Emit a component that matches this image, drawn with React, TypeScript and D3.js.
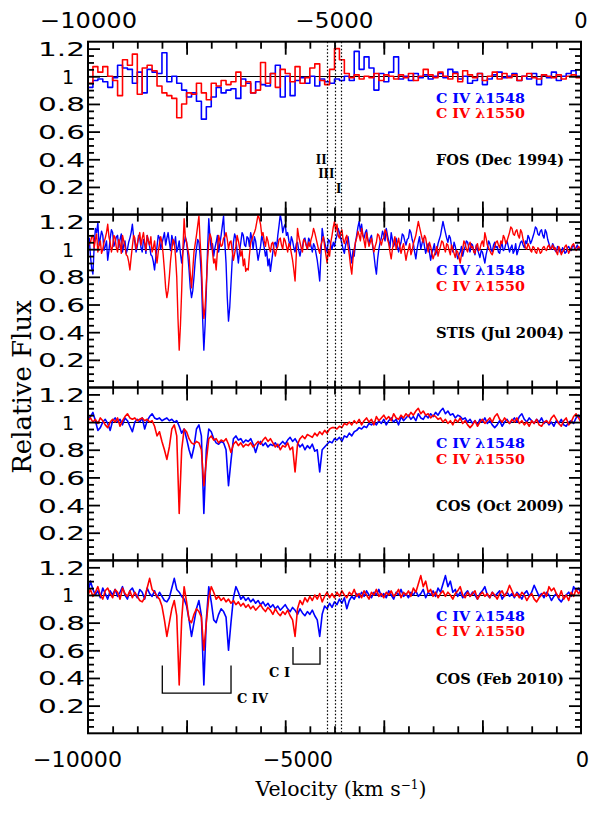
import { useEffect, useRef } from 'react';
import * as d3 from 'd3';

// velocity grid of the spectra (km/s)
const V_START = -10000;
const FOS_STEP = 100;
const STIS_STEP = 25;
const COS_STEP = 50;

// FOS (Dec 1994), 100 km/s bins
const fosBlue = [
    0.92, 0.97, 0.98, 0.96, 0.92, 0.99, 1.08, 1.06, 1.05, 0.95,
    1.03, 0.88, 1.05, 1.03, 1.02, 1.17, 0.96, 1.0, 0.95, 0.9,
    0.85, 0.88, 0.82, 0.69, 0.78, 0.85, 0.92, 0.88, 0.9, 0.91,
    0.84, 0.98, 0.95, 0.88, 0.96, 0.94, 0.93, 1.02, 1.08, 0.85,
    1.0, 0.86, 0.97, 0.99, 0.95, 1.0, 0.93, 0.98, 0.96, 0.95,
    0.98, 0.97, 1.0, 0.97, 1.18, 1.05, 1.14, 1.06, 0.9, 1.02,
    0.96, 1.03, 1.14, 0.98, 1.0, 0.97, 1.02, 0.99, 1.01, 0.98,
    1.0, 1.02, 0.99, 1.05, 1.03, 0.98, 1.0, 0.95, 0.97, 1.02,
    0.94, 0.98, 1.01, 1.03, 0.99, 1.0, 1.02, 0.97, 1.0, 0.98,
    1.02, 0.94, 1.01, 0.99, 1.03, 0.97, 1.0, 1.02, 1.04, 1.0,
    1.0,
];
const fosRed = [
    0.95, 1.07, 1.03, 1.07, 1.0, 0.97, 0.86, 1.12, 1.08, 1.16,
    0.87, 1.06, 1.08, 1.04, 0.93, 0.88, 0.86, 0.84, 0.7, 0.8,
    0.88, 0.87, 0.95, 0.88, 0.83, 0.95, 0.93, 0.97, 0.94, 0.96,
    1.03, 0.93, 0.96, 0.88, 0.9, 1.1, 0.95, 1.02, 0.92, 1.05,
    1.02, 0.96, 1.07, 0.95, 0.99, 1.06, 1.09, 0.97, 0.94, 1.05,
    1.2, 1.12, 1.02, 0.99, 1.01, 0.98, 1.0, 0.99, 1.02, 0.97,
    1.01, 1.0, 0.98, 1.01, 0.99, 1.02, 0.97, 1.0, 1.05, 1.01,
    0.99, 1.03, 1.0, 0.98, 1.02, 0.96, 1.04, 1.01, 0.99, 1.02,
    0.97, 1.0, 1.03, 0.98, 1.02, 0.99, 1.01, 0.97, 1.0, 1.02,
    0.99, 0.98, 1.01, 1.0, 0.99, 1.01, 0.98, 1.0, 1.01, 0.99,
    0.99,
];

// STIS (Jul 2004), 25 km/s grid
const stisBlue = [
    1.04, 1.08, 0.95, 0.86, 0.82, 1.02, 1.15, 1.12, 1.19, 1.03, 1.08, 1.13, 1.1, 0.99, 1.02, 1.06, 0.92, 0.99, 1.08, 1.14,
    1.12, 1.02, 1.05, 1.09, 1.1, 1.01, 1.07, 1.11, 0.98, 1.03, 1.06, 0.97, 1.0, 1.05, 1.08, 1.12, 1.18, 1.09, 1.05, 0.98,
    1.02, 1.1, 1.08, 1.01, 0.98, 1.07, 1.04, 0.97, 1.1, 1.06, 1.02, 0.96, 0.95, 0.91, 0.85, 0.94, 1.02, 1.1, 1.08, 1.0,
    1.04, 1.08, 1.12, 1.03, 1.08, 1.12, 1.05, 0.99, 1.1, 1.06, 1.03, 1.09, 0.98, 1.01, 1.06, 0.97, 0.9, 0.98, 1.04, 1.09,
    1.05, 0.96, 0.85, 0.72, 0.65, 0.7, 0.8, 0.92, 1.0, 1.07, 1.05, 0.95, 0.8, 0.5, 0.27, 0.45, 0.7, 1.0, 1.22, 1.08,
    1.0, 1.04, 0.95, 1.01, 1.05, 1.1, 0.98, 1.04, 1.1, 1.17, 1.24, 1.05, 0.9, 0.65, 0.48, 0.58, 0.75, 0.92, 1.05, 1.11,
    1.08, 0.98, 0.9, 0.99, 1.05, 1.12, 1.1, 1.03, 1.02, 1.09, 1.08, 1.02, 1.12, 1.07, 1.0, 1.09, 1.06, 0.99, 0.92, 0.97,
    1.02, 1.1, 1.06, 1.01, 0.95, 0.99, 0.88, 0.93, 0.84, 0.91, 0.98, 1.04, 1.05, 1.01, 1.1, 1.17, 1.25, 1.2, 1.12, 1.16,
    1.18, 1.1, 1.12, 1.06, 1.02, 1.09, 1.06, 1.01, 0.98, 1.04, 1.05, 0.99, 0.95, 1.0, 1.02, 1.07, 1.08, 1.03, 1.0, 1.08,
    1.06, 1.02, 0.98, 1.04, 1.02, 0.97, 0.92, 0.85, 0.77, 0.96, 1.15, 1.09, 1.05, 1.01, 0.98, 1.07, 1.06, 1.03, 1.0, 1.05,
    1.02, 1.07, 1.1, 1.15, 1.12, 1.08, 1.04, 1.0, 0.97, 1.03, 1.06, 1.09, 1.02, 0.96, 0.9, 0.99, 0.95, 1.05, 1.1, 1.16,
    1.2, 1.13, 1.18, 1.1, 1.08, 1.12, 1.14, 1.07, 1.04, 1.08, 1.1, 1.02, 0.96, 0.88, 0.82, 0.93, 1.0, 1.05, 1.08, 1.13,
    1.1, 1.06, 1.15, 1.1, 1.06, 1.01, 1.12, 1.07, 1.02, 1.05, 1.08, 1.03, 0.98, 1.02, 1.05, 1.11, 1.1, 1.06, 1.03, 1.07,
    1.08, 1.14, 1.12, 1.07, 1.04, 0.98, 0.93, 1.0, 1.05, 1.09, 1.0, 1.04, 1.08, 1.02, 0.97, 1.01, 1.04, 0.98, 0.92, 0.97,
    1.0, 1.04, 0.96, 0.99, 1.04, 1.07, 1.1, 1.15, 1.2, 1.16, 1.12, 1.08, 1.05, 1.1, 1.08, 1.02, 0.98, 1.05, 1.02, 0.97,
    0.93, 0.96, 0.98, 1.02, 0.95, 0.99, 1.02, 1.06, 1.05, 1.01, 0.98, 1.04, 1.03, 0.99, 0.96, 1.03, 1.0, 0.97, 0.94, 0.99,
    0.98, 0.94, 0.9, 0.96, 1.0, 1.06, 1.04, 1.0, 0.98, 1.03, 1.05, 1.01, 1.02, 0.98, 0.97, 1.02, 1.04, 0.99, 1.0, 1.04,
    1.06, 1.02, 0.98, 1.01, 1.03, 0.97, 0.99, 1.04, 0.96, 0.99, 1.02, 1.05, 1.06, 1.03, 1.01, 1.06, 1.04, 1.1, 1.08, 1.04,
    1.06, 1.09, 1.12, 1.16, 1.15, 1.11, 1.1, 1.13, 1.14, 1.1, 1.08, 1.14, 1.12, 1.07, 1.04, 1.01, 1.0, 1.04, 1.02, 0.99,
    0.98, 1.02, 1.01, 0.98, 0.97, 1.01, 1.0, 0.97, 0.98, 1.01, 1.02, 1.0, 0.99, 1.02, 1.03, 1.0, 1.01, 1.03, 1.0, 1.01,
    0.98,
];
const stisRed = [
    1.02, 1.04, 1.05, 1.09, 1.1, 1.01, 1.07, 1.11, 0.98, 1.03, 1.06, 0.97, 1.0, 1.05, 1.08, 1.12, 1.18, 1.09, 1.05, 0.98,
    1.02, 1.1, 1.08, 1.01, 0.98, 1.07, 1.04, 0.97, 1.1, 1.06, 1.02, 0.96, 0.95, 0.91, 0.85, 0.94, 1.02, 1.1, 1.08, 1.0,
    1.04, 1.08, 1.12, 1.03, 1.08, 1.12, 1.05, 0.99, 1.1, 1.06, 1.03, 1.09, 0.98, 1.01, 1.06, 0.97, 0.9, 0.98, 1.04, 1.09,
    1.05, 0.96, 0.85, 0.72, 0.65, 0.7, 0.8, 0.92, 1.0, 1.07, 1.05, 0.95, 0.8, 0.5, 0.27, 0.45, 0.7, 1.0, 1.22, 1.08,
    1.05, 1.0, 0.95, 0.82, 0.72, 0.85, 0.98, 1.04, 1.1, 1.17, 1.24, 1.05, 0.9, 0.65, 0.5, 0.58, 0.75, 0.92, 1.05, 1.11,
    1.08, 0.98, 0.9, 0.93, 0.85, 0.99, 1.1, 1.06, 1.02, 1.03, 1.08, 1.09, 1.12, 1.07, 1.0, 1.05, 1.06, 0.99, 0.92, 0.97,
    1.02, 1.1, 1.06, 1.01, 0.95, 0.99, 0.88, 0.93, 0.84, 0.86, 0.85, 0.96, 1.05, 1.07, 1.1, 1.12, 1.15, 1.2, 1.25, 1.22,
    1.18, 1.1, 1.12, 1.06, 1.02, 1.09, 1.06, 1.01, 0.98, 1.04, 1.05, 0.99, 0.95, 1.0, 1.02, 1.07, 1.08, 1.03, 1.0, 1.08,
    1.06, 1.02, 0.98, 1.04, 1.02, 0.97, 0.92, 0.85, 0.77, 0.96, 1.15, 1.09, 1.05, 1.01, 0.98, 1.07, 1.06, 1.03, 1.0, 1.05,
    1.02, 1.07, 1.1, 1.15, 1.12, 1.08, 1.04, 1.0, 0.97, 1.03, 1.06, 1.09, 1.02, 0.96, 0.9, 0.99, 0.95, 1.05, 1.1, 1.16,
    1.2, 1.13, 1.18, 1.1, 1.08, 1.12, 1.14, 1.07, 1.04, 1.08, 1.1, 1.02, 0.96, 0.88, 0.82, 0.93, 1.0, 1.05, 1.08, 1.13,
    1.1, 1.06, 1.15, 1.1, 1.06, 1.01, 1.12, 1.07, 1.02, 1.05, 1.08, 1.03, 0.98, 1.02, 1.05, 1.11, 1.1, 1.06, 1.03, 1.07,
    1.08, 1.14, 1.12, 1.07, 1.04, 0.98, 0.93, 1.0, 1.05, 1.09, 1.0, 1.04, 1.08, 1.02, 0.97, 1.01, 1.04, 0.98, 0.92, 0.97,
    1.0, 1.04, 0.96, 0.99, 1.04, 1.07, 1.1, 1.15, 1.2, 1.16, 1.12, 1.08, 1.05, 1.1, 1.08, 1.02, 0.98, 1.05, 1.02, 0.97,
    0.93, 0.96, 0.98, 1.02, 0.95, 0.99, 1.02, 1.06, 1.05, 1.01, 0.98, 1.04, 1.03, 0.99, 0.96, 1.03, 1.0, 0.97, 0.94, 0.99,
    0.98, 0.94, 0.9, 0.96, 1.0, 1.06, 1.04, 1.0, 0.98, 1.03, 1.05, 1.01, 1.02, 0.98, 0.97, 1.02, 1.04, 0.99, 1.0, 1.04,
    1.06, 1.02, 1.12, 1.08, 1.03, 1.01, 0.99, 0.97, 0.96, 0.99, 1.02, 1.05, 1.06, 1.03, 1.01, 1.06, 1.04, 1.1, 1.08, 1.04,
    1.06, 1.09, 1.12, 1.16, 1.15, 1.11, 1.1, 1.13, 1.14, 1.1, 1.08, 1.14, 1.12, 1.07, 1.04, 1.01, 1.0, 1.04, 1.02, 0.99,
    0.98, 1.02, 1.01, 0.98, 0.97, 1.01, 1.0, 0.97, 0.98, 1.01, 1.02, 1.0, 0.99, 1.02, 1.03, 1.0, 1.01, 1.03, 1.0, 1.01,
    0.98, 0.96, 1.02, 1.0, 0.96, 0.98, 0.99, 1.02, 1.03, 1.0, 0.97, 0.99, 1.01, 1.03, 1.04, 1.01, 0.99, 1.0, 1.02, 1.01,
    1.0,
];

// COS (Oct 2009), 50 km/s grid
const cosOctBlue = [
    1.02, 1.04, 1.07, 1.01, 0.94, 0.96, 1.0, 1.02, 0.99, 0.94, 1.01, 1.03, 1.0, 1.02, 0.98, 1.03, 1.01, 0.97, 0.93, 1.0,
    1.02, 1.0, 1.03, 0.95, 1.01, 1.04, 1.06, 1.03, 1.02, 1.03, 1.01, 1.02, 1.03, 1.01, 1.02, 1.0, 1.01, 0.97, 0.92, 0.95,
    0.88, 0.8, 0.74, 0.82, 0.95, 0.98, 0.9, 0.34, 0.8, 0.95, 0.93, 0.88, 0.85, 0.84, 0.86, 0.85, 0.8, 0.54, 0.72, 0.88,
    0.9, 0.87, 0.88, 0.85, 0.87, 0.86, 0.88, 0.84, 0.78, 0.84, 0.86, 0.83, 0.85, 0.82, 0.84, 0.83, 0.85, 0.82, 0.84, 0.86,
    0.84, 0.87, 0.89, 0.86, 0.88, 0.85, 0.82, 0.84, 0.8, 0.83, 0.81, 0.84, 0.79, 0.8, 0.64, 0.8, 0.82, 0.84, 0.86, 0.85,
    0.88, 0.87, 0.89, 0.86, 0.9, 0.89, 0.92, 0.9, 0.93, 0.94, 0.96, 0.95, 0.97, 0.96, 0.99, 0.98, 1.0, 0.98, 1.01, 0.99,
    1.02, 0.98, 1.01, 1.03, 1.0, 1.02, 0.98, 1.04, 1.01, 1.03, 1.05, 1.02, 1.04, 1.01, 1.06, 1.03, 1.02, 1.05, 1.03, 1.06,
    1.04, 1.07, 1.05, 1.08, 1.1, 1.06, 1.08, 1.05, 1.06, 1.03, 1.05, 1.04, 1.02, 1.03, 1.0, 1.02, 0.99, 1.01, 0.98, 1.02,
    1.0, 1.03, 0.99, 1.01, 0.98, 0.96, 0.98, 1.01, 0.97, 1.0, 1.02, 0.99, 1.01, 1.03, 1.0, 1.04, 1.06, 1.02, 1.0, 1.03,
    1.01, 0.99, 1.02, 1.0, 1.03, 0.99, 1.01, 0.98, 1.0, 0.97, 1.01, 0.99, 1.02, 0.98, 0.97, 1.0, 1.01, 0.99, 1.03, 1.05,
    1.02,
];
const cosOctRed = [
    1.01, 1.03, 1.0, 1.02, 0.99, 1.03, 1.01, 0.98, 0.96, 1.0, 1.02, 1.0, 1.03, 0.97, 1.01, 1.04, 1.06, 1.03, 1.02, 1.03,
    1.01, 1.02, 1.03, 1.01, 1.02, 1.0, 1.01, 0.97, 0.9, 0.93, 0.86, 0.8, 0.73, 0.82, 0.95, 0.98, 0.9, 0.34, 0.8, 0.95,
    0.93, 0.88, 0.85, 0.84, 0.86, 0.85, 0.8, 0.54, 0.72, 0.88, 0.9, 0.87, 0.88, 0.85, 0.87, 0.86, 0.88, 0.84, 0.78, 0.84,
    0.86, 0.83, 0.85, 0.82, 0.84, 0.83, 0.85, 0.82, 0.84, 0.86, 0.84, 0.87, 0.89, 0.86, 0.88, 0.85, 0.82, 0.84, 0.8, 0.83,
    0.82, 0.85, 0.8, 0.82, 0.64, 0.84, 0.88, 0.9, 0.88, 0.91, 0.9, 0.89, 0.92, 0.9, 0.93, 0.91, 0.94, 0.92, 0.95, 0.96,
    0.96, 0.95, 0.97, 0.96, 0.99, 0.98, 1.0, 0.98, 1.01, 0.99, 1.02, 0.98, 1.01, 1.03, 1.0, 1.02, 0.98, 1.04, 1.01, 1.03,
    1.05, 1.02, 1.04, 1.01, 1.06, 1.03, 1.02, 1.05, 1.03, 1.06, 1.04, 1.07, 1.05, 1.08, 1.1, 1.06, 1.08, 1.05, 1.06, 1.03,
    1.05, 1.04, 1.02, 1.03, 1.0, 1.02, 0.99, 1.01, 0.98, 1.02, 1.0, 1.03, 0.99, 1.01, 0.98, 0.96, 0.98, 1.01, 0.97, 1.0,
    1.02, 0.99, 1.01, 1.03, 1.0, 1.04, 1.06, 1.02, 1.0, 1.03, 1.01, 0.99, 1.02, 1.0, 1.03, 0.99, 1.01, 0.98, 1.0, 0.97,
    1.01, 0.99, 1.02, 0.98, 0.97, 1.0, 1.01, 0.99, 1.03, 1.05, 1.02, 0.99, 0.97, 1.01, 1.03, 0.98, 1.0, 1.04, 1.06, 1.03,
    1.0,
];

// COS (Feb 2010), 50 km/s grid
const cosFebBlue = [
    1.02, 1.1, 1.04, 1.0, 1.03, 0.98, 1.05, 1.01, 0.97, 1.03, 1.0, 1.04, 0.99, 1.02, 1.06, 1.0, 0.97, 1.03, 1.05, 1.01,
    0.98, 1.04, 1.02, 0.97, 1.05, 1.01, 0.99, 1.03, 0.98, 1.02, 0.99, 0.96, 0.95, 0.98, 1.05, 1.12, 1.04, 1.02, 0.99, 0.97,
    0.92, 0.82, 0.7, 0.8, 0.9, 0.96, 0.85, 0.35, 0.82, 1.06, 0.95, 0.82, 0.8, 0.86, 0.9, 0.88, 0.84, 0.6, 0.8, 0.98,
    1.06, 1.02, 0.97, 0.99, 0.96, 0.98, 0.95, 0.97, 0.94, 0.96, 0.93, 0.95, 0.92, 0.94, 0.91, 0.93, 0.9, 0.92, 0.89, 0.91,
    0.93, 0.9, 0.88, 0.91, 0.89, 0.86, 0.9, 0.87, 0.85, 0.88, 0.86, 0.89, 0.85, 0.82, 0.7, 0.86, 0.92, 0.9, 0.94, 0.91,
    0.95, 0.93, 0.97, 0.94, 0.98, 0.9, 0.96, 0.99, 0.97, 1.01, 0.98, 1.02, 0.99, 1.03, 1.0, 0.98, 1.02, 1.0, 1.04, 0.99,
    1.01, 0.98, 1.03, 1.0, 0.97, 1.02, 1.0, 1.04, 0.99, 1.01, 0.98, 1.02, 1.0, 1.03, 0.99, 1.01, 1.04, 0.98, 1.02, 1.0,
    1.03, 0.99, 1.05, 1.02, 1.08, 1.14, 1.06, 1.1, 1.02, 1.04, 0.99, 1.02, 0.98, 1.01, 1.03, 0.99, 1.02, 1.0, 0.97, 1.01,
    1.03, 1.06, 1.0, 0.98, 1.02, 0.99, 1.01, 1.03, 0.97, 1.0, 1.02, 0.99, 1.01, 0.98, 1.02, 1.0, 0.97, 1.01, 1.03, 0.99,
    1.02, 1.07, 1.03, 0.99, 1.01, 0.98, 1.02, 1.0, 0.96, 0.99, 1.01, 0.97, 0.95, 0.98, 1.0, 1.02, 0.99, 1.06, 1.03, 1.05,
    1.01,
];
const cosFebRed = [
    1.0, 1.04, 0.99, 1.02, 1.06, 1.0, 0.97, 1.03, 1.05, 1.01, 0.98, 1.04, 1.02, 0.97, 1.05, 1.01, 0.99, 1.03, 0.98, 1.02,
    0.99, 0.96, 0.95, 0.98, 1.05, 1.12, 1.04, 1.02, 0.99, 0.97, 0.92, 0.82, 0.7, 0.8, 0.9, 0.96, 0.85, 0.35, 0.82, 1.06,
    0.95, 0.82, 0.8, 0.86, 0.9, 0.88, 0.84, 0.6, 0.8, 0.98, 1.06, 1.02, 0.97, 0.99, 0.96, 0.98, 0.95, 0.97, 0.94, 0.96,
    0.93, 0.95, 0.92, 0.94, 0.91, 0.93, 0.9, 0.92, 0.89, 0.91, 0.93, 0.9, 0.88, 0.91, 0.89, 0.86, 0.9, 0.87, 0.85, 0.88,
    0.86, 0.89, 0.85, 0.82, 0.7, 0.9, 0.96, 0.93, 0.98, 0.95, 0.99, 0.96, 1.0, 0.97, 1.01, 0.95, 0.99, 1.02, 0.98, 1.01,
    0.98, 1.02, 0.99, 1.03, 1.0, 0.98, 1.02, 1.0, 1.04, 0.99, 1.01, 0.98, 1.03, 1.0, 0.97, 1.02, 1.0, 1.04, 0.99, 1.01,
    0.98, 1.02, 1.0, 1.03, 0.99, 1.01, 1.04, 0.98, 1.02, 1.0, 1.03, 0.99, 1.05, 1.02, 1.08, 1.14, 1.06, 1.1, 1.02, 1.04,
    0.99, 1.02, 0.98, 1.01, 1.03, 0.99, 1.02, 1.0, 0.97, 1.01, 1.03, 1.06, 1.0, 0.98, 1.02, 0.99, 1.01, 1.03, 0.97, 1.0,
    1.02, 0.99, 1.01, 0.98, 1.02, 1.0, 0.97, 1.01, 1.03, 0.99, 1.02, 1.07, 1.03, 0.99, 1.01, 0.98, 1.02, 1.0, 0.96, 0.99,
    1.01, 0.97, 0.95, 0.98, 1.0, 1.02, 0.99, 1.06, 1.03, 1.05, 1.01, 0.98, 1.03, 0.97, 1.0, 0.96, 1.02, 0.99, 1.04, 1.01,
    1.03,
];

const panelLabels = ['FOS (Dec 1994)', 'STIS (Jul 2004)', 'COS (Oct 2009)', 'COS (Feb 2010)'];
const lineLabels = ['C IV \u03bb1548', 'C IV \u03bb1550'];
const lineColors = ['#0000ff', '#ff0000'];

// absorption components (dotted lines) and their names
const componentVelocities = [-5150, -4990, -4870];
const componentNames = ['II', 'III', 'I'];
const componentLabelFlux = [0.365, 0.263, 0.154];

// brackets in the last panel: [v1, v2, flux top, flux bottom]
const civBracket = [-8493, -7099, 0.49, 0.29];
const ciBracket = [-5842, -5294, 0.624, 0.5];

const yTickLabels = ['0.2', '0.4', '0.6', '0.8', '1', '1.2'];
const xTickLabels = ['\u221210000', '\u22125000', '0'];

const App = () => {
    const svgRef = useRef<SVGSVGElement>(null);

    useEffect(() => {
        const svg = d3.select(svgRef.current);
        svg.selectAll('*').remove();

        const width = 590;
        const top = 41.7;
        const bottom = 733.3;
        const panelH = (bottom - top) / 4;

        const x = d3.scaleLinear().domain([-10000, 0]).range([88, 581]);

        const panels = [
            { blue: fosBlue, red: fosRed, step: FOS_STEP, stepped: true },
            { blue: stisBlue, red: stisRed, step: STIS_STEP, stepped: false },
            { blue: cosOctBlue, red: cosOctRed, step: COS_STEP, stepped: false },
            { blue: cosFebBlue, red: cosFebRed, step: COS_STEP, stepped: false },
        ];

        svg.append('rect').attr('width', width).attr('height', 817).attr('fill', '#fff');

        panels.forEach((p, pi) => {
            const pTop = top + pi * panelH;
            const y = d3.scaleLinear().domain([0, 1.25]).range([pTop + panelH, pTop]);
            const g = svg.append('g');

            const clipId = `clip-${pi}`;
            g.append('clipPath')
                .attr('id', clipId)
                .append('rect')
                .attr('x', x(-10000))
                .attr('y', pTop)
                .attr('width', x(0) - x(-10000))
                .attr('height', panelH);

            // continuum
            g.append('line')
                .attr('x1', x(-10000))
                .attr('x2', x(0))
                .attr('y1', Math.round(y(1)) + 0.5)
                .attr('y2', Math.round(y(1)) + 0.5)
                .attr('stroke', '#000')
                .attr('stroke-width', 1);

            const line = d3
                .line<number>()
                .x((d, i) => x(Math.min(V_START + i * p.step, 0)))
                .y((d) => y(d))
                .curve(p.stepped ? d3.curveStepAfter : d3.curveLinear);

            [p.blue, p.red].forEach((series, si) => {
                g.append('path')
                    .datum(series)
                    .attr('clip-path', `url(#${clipId})`)
                    .attr('fill', 'none')
                    .attr('stroke', lineColors[si])
                    .attr('stroke-width', p.step === STIS_STEP ? 1.4 : 1.6)
                    .attr('stroke-linejoin', 'round')
                    .attr('d', line);
            });

            // x ticks, inward on bottom and top
            const minorX = d3.range(-9500, 0, 500);
            const majorX = [-8000, -6000, -4000, -2000];
            const addAxis = (axis, tx, ty) => {
                const a = g.append('g').attr('transform', `translate(${tx},${ty})`).call(axis);
                a.select('.domain').remove();
                a.selectAll('line').attr('stroke', '#000').attr('stroke-width', 1.8);
                a.selectAll('text').remove();
            };
            addAxis(d3.axisBottom(x).tickValues(minorX).tickSize(-7).tickFormat(() => ''), 0, y(0));
            addAxis(d3.axisBottom(x).tickValues(majorX).tickSize(-13).tickFormat(() => ''), 0, y(0));
            addAxis(d3.axisTop(x).tickValues(minorX).tickSize(-7).tickFormat(() => ''), 0, y(1.25));
            addAxis(d3.axisTop(x).tickValues(majorX).tickSize(-13).tickFormat(() => ''), 0, y(1.25));

            // y ticks, inward on left and right
            const minorY = d3.range(1, 25).map((k) => k * 0.05).filter((v) => Math.abs(v * 5 - Math.round(v * 5)) > 1e-6);
            const majorY = [0.2, 0.4, 0.6, 0.8, 1.0, 1.2];
            addAxis(d3.axisLeft(y).tickValues(minorY).tickSize(-6).tickFormat(() => ''), x(-10000), 0);
            addAxis(d3.axisLeft(y).tickValues(majorY).tickSize(-12).tickFormat(() => ''), x(-10000), 0);
            addAxis(d3.axisRight(y).tickValues(minorY).tickSize(-6).tickFormat(() => ''), x(0), 0);
            addAxis(d3.axisRight(y).tickValues(majorY).tickSize(-12).tickFormat(() => ''), x(0), 0);

            // frame
            g.append('rect')
                .attr('x', x(-10000))
                .attr('y', pTop)
                .attr('width', x(0) - x(-10000))
                .attr('height', panelH)
                .attr('fill', 'none')
                .attr('stroke', '#000')
                .attr('stroke-width', 2);

            // y tick labels
            majorY.forEach((v, k) => {
                const lbl = yTickLabels[k];
                const t = g
                    .append('text')
                    .attr('y', y(v) + 7.5)
                    .attr('font-family', 'DejaVu Sans')
                    .attr('font-size', 19)
                    .attr('fill', '#000')
                    .text(lbl);
                if (lbl === '1') {
                    t.attr('x', 68).attr('text-anchor', 'middle');
                } else {
                    t.attr('x', 38).attr('textLength', 47).attr('lengthAdjust', 'spacingAndGlyphs');
                }
            });

            // legend
            [0.81, 0.7].forEach((lv, li) => {
                g.append('text')
                    .attr('x', 436)
                    .attr('y', y(lv))
                    .attr('font-family', 'DejaVu Serif')
                    .attr('font-weight', 'bold')
                    .attr('font-size', 13.5)
                    .attr('fill', lineColors[li])
                    .attr('textLength', 89)
                    .attr('lengthAdjust', 'spacingAndGlyphs')
                    .text(lineLabels[li]);
            });
            g.append('text')
                .attr('x', 436)
                .attr('y', y(0.36))
                .attr('font-family', 'DejaVu Serif')
                .attr('font-weight', 'bold')
                .attr('font-size', 14)
                .attr('fill', '#000')
                .attr('textLength', 128)
                .attr('lengthAdjust', 'spacingAndGlyphs')
                .text(panelLabels[pi]);

            if (pi === 0) {
                componentNames.forEach((name, k) => {
                    g.append('text')
                        .attr('x', x(componentVelocities[k]) + (k === 2 ? 0.5 : -0.5))
                        .attr('y', y(componentLabelFlux[k]))
                        .attr('text-anchor', 'end')
                        .attr('font-family', 'Liberation Serif')
                        .attr('font-weight', 'bold')
                        .attr('font-size', 14)
                        .attr('fill', '#000')
                        .text(name);
                });
            }

            if (pi === 3) {
                [civBracket, ciBracket].forEach((b) => {
                    g.append('path')
                        .attr(
                            'd',
                            d3.line()([
                                [x(b[0]), y(b[2])],
                                [x(b[0]), y(b[3])],
                                [x(b[1]), y(b[3])],
                                [x(b[1]), y(b[2])],
                            ]),
                        )
                        .attr('fill', 'none')
                        .attr('stroke', '#000')
                        .attr('stroke-width', 1.3);
                });
                g.append('text')
                    .attr('x', x(civBracket[1]) + 6)
                    .attr('y', y(0.22))
                    .attr('font-family', 'DejaVu Serif')
                    .attr('font-weight', 'bold')
                    .attr('font-size', 13)
                    .attr('textLength', 31)
                    .attr('lengthAdjust', 'spacingAndGlyphs')
                    .text('C IV');
                g.append('text')
                    .attr('x', x(ciBracket[0]) - 3)
                    .attr('y', y(0.41))
                    .attr('text-anchor', 'end')
                    .attr('font-family', 'DejaVu Serif')
                    .attr('font-weight', 'bold')
                    .attr('font-size', 13)
                    .text('C I');
            }
        });

        // dotted component lines through all panels
        componentVelocities.forEach((v) => {
            svg.append('line')
                .attr('x1', Math.round(x(v)) + 0.5)
                .attr('x2', Math.round(x(v)) + 0.5)
                .attr('y1', top)
                .attr('y2', bottom)
                .attr('stroke', '#000')
                .attr('stroke-width', 1.2)
                .attr('stroke-dasharray', '1.5,2');
        });

        // x tick labels, top and bottom
        const topLabelPos = [
            { cx: x(-10000) + 0.5, w: 97 },
            { cx: x(-5000), w: 78 },
            { cx: x(0), w: 0 },
        ];
        const bottomLabelPos = [
            { cx: 77.5, w: 89 },
            { cx: 298, w: 70 },
            { cx: 582.5, w: 0 },
        ];
        [
            [topLabelPos, 27.5],
            [bottomLabelPos, 767],
        ].forEach(([pos, by]) => {
            (pos as { cx: number; w: number }[]).forEach((pp, k) => {
                const t = svg
                    .append('text')
                    .attr('y', by as number)
                    .attr('font-family', 'DejaVu Sans')
                    .attr('font-size', 21)
                    .attr('fill', '#000')
                    .text(xTickLabels[k]);
                if (pp.w > 0) {
                    t.attr('x', pp.cx - pp.w / 2)
                        .attr('textLength', pp.w)
                        .attr('lengthAdjust', 'spacingAndGlyphs');
                } else {
                    t.attr('x', pp.cx).attr('text-anchor', 'middle');
                }
            });
        });

        // axis titles
        const xt = svg
            .append('text')
            .attr('x', 341)
            .attr('y', 796)
            .attr('text-anchor', 'middle')
            .attr('font-family', 'DejaVu Serif')
            .attr('font-size', 20.5)
            .attr('fill', '#000');
        xt.append('tspan').text('Velocity (km s');
        xt.append('tspan').attr('dy', -7).attr('font-size', 12).text('\u22121');
        xt.append('tspan').attr('dy', 7).text(')');

        svg.append('text')
            .attr('transform', `translate(31,${387}) rotate(-90)`)
            .attr('text-anchor', 'middle')
            .attr('font-family', 'DejaVu Serif')
            .attr('font-size', 26)
            .attr('fill', '#000')
            .text('Relative Flux');
    }, []);

    return (
        <svg
            ref={svgRef}
            width={590}
            height={817}
            style={{ position: 'absolute', left: 0, top: 0, display: 'block' }}
        ></svg>
    );
};

export default App;
